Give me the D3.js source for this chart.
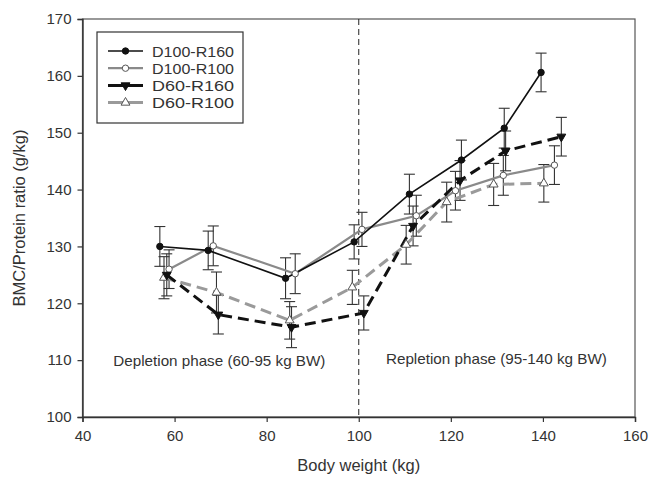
<!DOCTYPE html>
<html>
<head>
<meta charset="utf-8">
<script src="https://cdn.jsdelivr.net/npm/d3@7"></script>
<style>
  body { margin: 0; background: #fff; }
  text { font-family: "Liberation Sans", Arial, sans-serif; fill: #333; }
</style>
</head>
<body>
<div id="chart"></div>
<script>

// series names (legend order)
var seriesNames = ["D100-R160", "D100-R100", "D60-R160", "D60-R100"];

// body weight (kg) for each series
var xD100R160 = [56.8, 67.3, 84.1, 99.0, 111.0, 122.3, 131.6, 139.6];
var xD100R100 = [58.8, 68.4, 86.2, 100.7, 112.5, 121.0, 131.4, 142.5];
var xD60R160  = [58.3, 69.5, 85.4, 101.1, 111.8, 122.0, 131.9, 144.0];
var xD60R100  = [57.7, 69.1, 85.0, 98.6, 110.3, 119.1, 129.3, 140.2];

// BMC/Protein ratio (g/kg)
var yD100R160 = [130.0, 129.3, 124.4, 130.8, 139.2, 145.2, 150.8, 160.6];
var yD100R100 = [126.0, 130.1, 125.2, 133.0, 135.4, 139.8, 142.5, 144.3];
var yD60R160  = [125.0, 118.0, 115.8, 118.3, 133.6, 141.6, 146.8, 149.3];
var yD60R100  = [124.5, 121.9, 117.0, 122.8, 130.3, 137.8, 140.9, 141.1];

// error bar half-lengths
var eD100R160 = [3.5, 3.4, 3.6, 3.0, 3.5, 3.5, 3.5, 3.4];
var eD100R100 = [3.4, 3.5, 3.5, 3.0, 3.6, 3.4, 3.5, 3.4];
var eD60R160  = [3.7, 3.4, 3.6, 3.0, 3.5, 3.5, 3.5, 3.4];
var eD60R100  = [3.7, 3.6, 3.3, 3.0, 3.4, 3.5, 3.7, 3.3];

var xTicks = [40, 60, 80, 100, 120, 140, 160];
var yTicks = [100, 110, 120, 130, 140, 150, 160, 170];

function pts(xs, ys, es){
  return xs.map((x, i) => ({x: x, y: ys[i], e: es[i]}));
}

var data = [
  {name: seriesNames[0], values: pts(xD100R160, yD100R160, eD100R160), stroke: "#111", width: 1.6, dash: null, marker: "circle", fill: "#111"},
  {name: seriesNames[1], values: pts(xD100R100, yD100R100, eD100R100), stroke: "#8a8a8a", width: 2.2, dash: null, marker: "circle", fill: "#fff"},
  {name: seriesNames[2], values: pts(xD60R160, yD60R160, eD60R160), stroke: "#111", width: 3, dash: "11,6", marker: "down", fill: "#111"},
  {name: seriesNames[3], values: pts(xD60R100, yD60R100, eD60R100), stroke: "#9a9a9a", width: 3, dash: "11,6", marker: "up", fill: "#fff"}
];

var width = 650, height = 483;
var margin = {top: 19, right: 15, bottom: 66, left: 82.5};

var svg = d3.select("#chart").append("svg")
  .attr("width", width)
  .attr("height", height);

var x = d3.scaleLinear().domain([40, 160]).range([margin.left, width - margin.right]);
var y = d3.scaleLinear().domain([100, 170]).range([height - margin.bottom, margin.top]);

// frame
svg.append("rect")
  .attr("x", x(40)).attr("y", y(170))
  .attr("width", x(160) - x(40)).attr("height", y(100) - y(170))
  .attr("fill", "none").attr("stroke", "#555").attr("stroke-width", 1.2);

var xAxis = svg.append("g")
  .attr("transform", `translate(0,${y(100)})`)
  .call(d3.axisBottom(x).tickValues(xTicks).tickSize(5).tickPadding(8));
var yAxis = svg.append("g")
  .attr("transform", `translate(${x(40)},0)`)
  .call(d3.axisLeft(y).tickValues(yTicks).tickSize(5).tickPadding(6));

[xAxis, yAxis].forEach(function(a){
  a.select(".domain").attr("stroke", "#333").attr("stroke-width", 1.4);
  a.selectAll(".tick line").attr("stroke", "#333").attr("stroke-width", 1.2);
  a.selectAll(".tick text").style("font-size", "15px").attr("fill", "#333")
    .style("font-family", "'Liberation Sans', Arial, sans-serif");
});

// axis titles
svg.append("text")
  .attr("x", x(100)).attr("y", 471)
  .attr("text-anchor", "middle")
  .style("font-size", "16.5px")
  .text("Body weight (kg)");

svg.append("text")
  .attr("transform", `translate(25,${(y(100) + y(170)) / 2}) rotate(-90)`)
  .attr("text-anchor", "middle")
  .style("font-size", "16.5px")
  .text("BMC/Protein ratio (g/kg)");

// phase divider at 100 kg
svg.append("line")
  .attr("x1", x(100)).attr("x2", x(100))
  .attr("y1", y(170)).attr("y2", y(100))
  .attr("stroke", "#222").attr("stroke-width", 1)
  .attr("stroke-dasharray", "6,4");

svg.append("text")
  .attr("x", x(46.7)).attr("y", y(108.9))
  .style("font-size", "15px")
  .attr("textLength", 212).attr("lengthAdjust", "spacingAndGlyphs")
  .text("Depletion phase (60-95 kg BW)");

svg.append("text")
  .attr("x", x(105.9)).attr("y", y(109.4))
  .style("font-size", "15px")
  .attr("textLength", 221).attr("lengthAdjust", "spacingAndGlyphs")
  .text("Repletion phase (95-140 kg BW)");

// error bars
var cap = 5.5;
data.forEach(function(s){
  var g = svg.append("g").attr("class", "errbars");
  s.values.forEach(function(d){
    var cx = x(d.x), top = y(d.y + d.e), bot = y(d.y - d.e);
    g.append("line").attr("x1", cx).attr("x2", cx).attr("y1", top).attr("y2", bot);
    g.append("line").attr("x1", cx - cap).attr("x2", cx + cap).attr("y1", top).attr("y2", top);
    g.append("line").attr("x1", cx - cap).attr("x2", cx + cap).attr("y1", bot).attr("y2", bot);
  });
  g.selectAll("line").attr("stroke", "#333").attr("stroke-width", 1.1);
});

var line = d3.line()
  .x(d => x(d.x))
  .y(d => y(d.y));

// lines (grey first so black sits on top)
var drawOrder = [3, 1, 2, 0];
drawOrder.forEach(function(i){
  var s = data[i];
  svg.append("path")
    .attr("d", line(s.values))
    .attr("fill", "none")
    .attr("stroke", s.stroke)
    .attr("stroke-width", s.width)
    .attr("stroke-dasharray", s.dash);
});

function marker(g, type, cx, cy, fill){
  var m;
  if (type === "circle") {
    m = g.append("circle").attr("cx", cx).attr("cy", cy).attr("r", 3.2);
  } else {
    var sym = d3.symbol().type(d3.symbolTriangle).size(34);
    m = g.append("path").attr("d", sym())
      .attr("transform", `translate(${cx},${cy})` + (type === "down" ? " rotate(180)" : ""));
  }
  m.attr("fill", fill).attr("stroke", fill === "#fff" ? "#555" : "#111").attr("stroke-width", 1);
  return m;
}

drawOrder.forEach(function(i){
  var s = data[i];
  var g = svg.append("g");
  s.values.forEach(function(d){ marker(g, s.marker, x(d.x), y(d.y), s.fill); });
});

// legend
var legend = svg.append("g").attr("transform", "translate(97,32)");
legend.append("rect")
  .attr("width", 146).attr("height", 91)
  .attr("fill", "#fff").attr("stroke", "#333").attr("stroke-width", 1.2);

data.forEach(function(s, i){
  var ly = 19 + i * 17.2;
  legend.append("line")
    .attr("x1", 11).attr("x2", 46).attr("y1", ly).attr("y2", ly)
    .attr("stroke", s.stroke).attr("stroke-width", s.width);
  marker(legend, s.marker, 28.5, ly, s.fill);
  legend.append("text")
    .attr("x", 55).attr("y", ly + 5.5)
    .style("font-size", "15.5px")
    .attr("textLength", 82).attr("lengthAdjust", "spacingAndGlyphs")
    .text(s.name);
});

</script>
</body>
</html>
